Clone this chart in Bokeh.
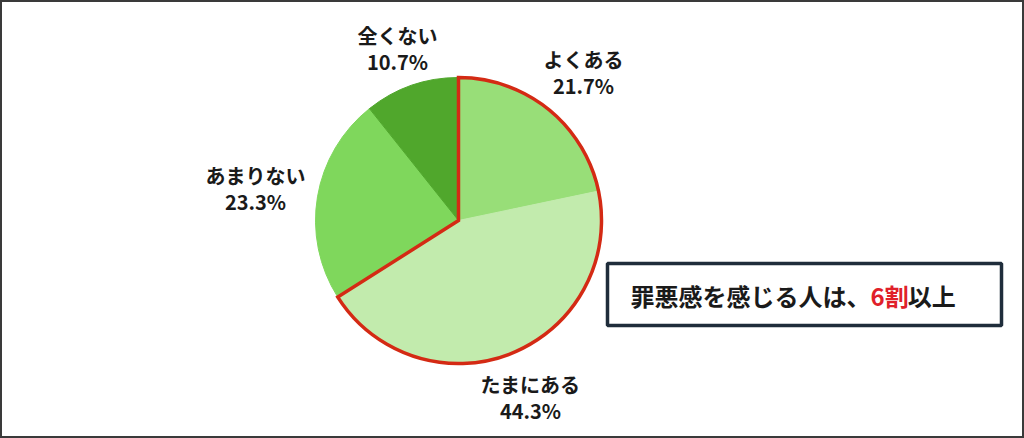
import math
from bokeh.plotting import figure
from bokeh.models import Range1d, ColumnDataSource
from bokeh.core.properties import value
from bokeh.embed import file_html
from bokeh.resources import INLINE

# ---- data ----
categories = ["よくある", "たまにある", "あまりない", "全くない"]
percents = [21.7, 44.3, 23.3, 10.7]
highlight_count = 2  # first two slices are outlined (罪悪感を感じる人)
callout_parts = ["罪悪感を感じる人は、", "6割", "以上"]

# ---- styles / layout ----
colors = ["#98de78", "#c2ebad", "#7fd75c", "#50a72c"]
W, H = 1024, 438
FONT = "Noto Sans CJK JP"
cx, cy, R = 458, 220, 143
label_px = [(583, 59), (530, 384), (255, 175), (397, 35)]
line_gap = 26


def Y(py):
    return H - py


p = figure(width=W, height=H, x_range=Range1d(0, W), y_range=Range1d(0, H),
           output_backend="svg", toolbar_location=None, min_border=0)
p.axis.visible = False
p.grid.visible = False
p.background_fill_color = "white"
p.border_fill_color = "white"
p.outline_line_color = "#3a3a3a"
p.outline_line_width = 3

# wedges
total = sum(percents)
starts, ends = [], []
acc = 0.0
for v in percents:
    s = math.pi / 2 - 2 * math.pi * acc / total
    acc += v
    e = math.pi / 2 - 2 * math.pi * acc / total
    starts.append(s)
    ends.append(e)

src = ColumnDataSource(dict(x=[cx] * len(percents), y=[Y(cy)] * len(percents),
                            start=starts, end=ends, color=colors))
p.wedge(x="x", y="y", radius=R, radius_units="screen", start_angle="start",
        end_angle="end", direction="clock", fill_color="color",
        line_color="color", line_width=1, source=src)

# highlight outline for the first slices
hl_end = math.pi / 2 - 2 * math.pi * sum(percents[:highlight_count]) / total
p.wedge(x=[cx], y=[Y(cy)], radius=R, radius_units="screen",
        start_angle=math.pi / 2, end_angle=hl_end, direction="clock",
        fill_color=None, line_color="#d42a14", line_width=3.5,
        line_join="miter")

# labels
names_x = [lp[0] for lp in label_px]
names_y = [Y(lp[1]) for lp in label_px]
pct_y = [Y(lp[1] + line_gap) for lp in label_px]
pct_txt = [f"{v}%" for v in percents]
p.text(x=names_x, y=names_y, text=categories, text_font=value(FONT),
       text_font_style="bold", text_font_size="20px", text_color="#1a1a1a",
       text_align="center", text_baseline="middle")
p.text(x=names_x, y=pct_y, text=pct_txt, text_font=value(FONT),
       text_font_style="bold", text_font_size="20px", text_color="#1a1a1a",
       text_align="center", text_baseline="middle")

# callout box
p.quad(left=[607], right=[1001], top=[Y(263)], bottom=[Y(325)],
       fill_color="white", line_color="#1f2d3b", line_width=3.5)
fs = 24
x0 = 630
w0 = len(callout_parts[0]) * fs
w1 = fs * 0.55 + fs
p.text(x=[x0], y=[Y(295)], text=[callout_parts[0]], text_font=value(FONT),
       text_font_style="bold", text_font_size=f"{fs}px", text_color="#1a1a1a",
       text_align="left", text_baseline="middle")
p.text(x=[x0 + w0], y=[Y(295)], text=[callout_parts[1]], text_font=value(FONT),
       text_font_style="bold", text_font_size=f"{fs}px", text_color="#e0202a",
       text_align="left", text_baseline="middle")
p.text(x=[x0 + w0 + w1], y=[Y(295)], text=[callout_parts[2]], text_font=value(FONT),
       text_font_style="bold", text_font_size=f"{fs}px", text_color="#1a1a1a",
       text_align="left", text_baseline="middle")

open("out.html", "w").write(file_html(p, INLINE))
